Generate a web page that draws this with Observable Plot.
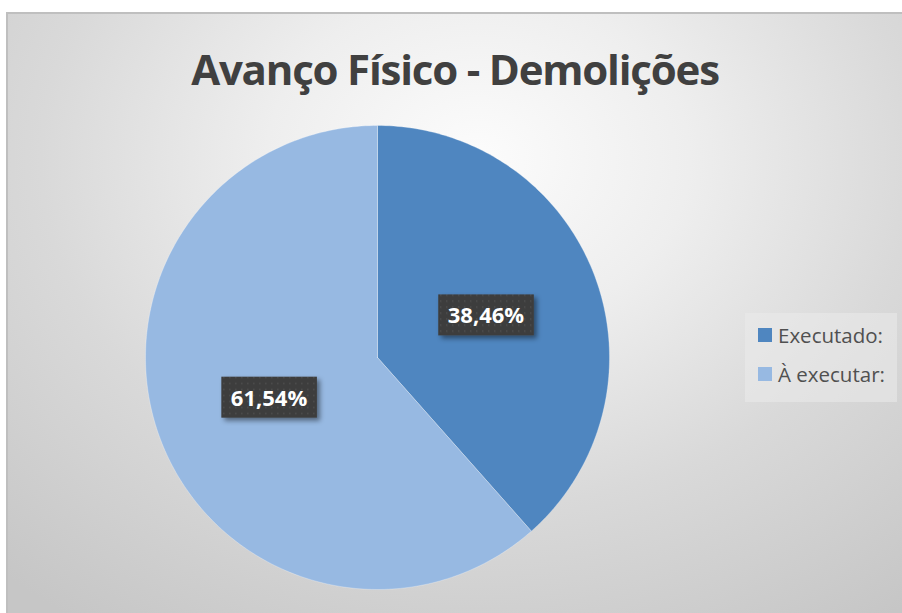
<!DOCTYPE html>
<html><head><meta charset="utf-8">
<script src="https://cdn.jsdelivr.net/npm/d3@7"></script>
<script src="https://cdn.jsdelivr.net/npm/@observablehq/plot@0.6"></script>
<style>
html,body{margin:0;padding:0;width:902px;height:613px;overflow:hidden;background:#fff;}
#frame{position:absolute;left:6px;top:12px;width:940px;height:660px;border-left:2px solid #bfbfbf;border-top:2px solid #bfbfbf;
  background:radial-gradient(ellipse 75% 85% at 50% 22%, #fcfcfc 0%, #eeeeee 30%, #d9d9d9 62%, #c6c6c6 100%);}
#title{position:absolute;left:0;top:39px;width:910px;text-align:center;font-family:"Open Sans",sans-serif;font-weight:700;font-size:42px;letter-spacing:-1.2px;line-height:60px;color:#404040;white-space:nowrap;}
#plot{position:absolute;left:0;top:0;}
#legend{position:absolute;left:745px;top:313px;width:152px;height:89px;background:rgba(235,235,235,0.55);font-family:"Open Sans",sans-serif;font-size:20.5px;color:#505050;}
#legend .item{position:absolute;left:13px;display:flex;align-items:center;white-space:nowrap;}
#legend .sw{width:14px;height:14px;margin-right:6px;}
</style>
</head><body>
<div id="frame"></div>
<div id="title"></div>
<div id="plot"></div>
<div id="legend"></div>
<script>
const title = "Avanço Físico - Demolições";
const categories = ["Executado:", "À executar:"];
const values = [38.46, 61.54];
const labels = ["38,46%", "61,54%"];
const colors = ["#4F86C0", "#97B9E2"];

document.getElementById("title").textContent = title;

// build slice polygons (angles measured clockwise from 12 o'clock)
const total = d3.sum(values);
let acc = 0;
const slices = values.map((v, i) => {
  const a0 = acc / total * 2 * Math.PI;
  acc += v;
  const a1 = acc / total * 2 * Math.PI;
  return {name: categories[i], a0, a1, label: labels[i], color: colors[i]};
});
const polyPts = [];
slices.forEach(s => {
  const n = Math.max(2, Math.ceil((s.a1 - s.a0) / (Math.PI / 180)));
  polyPts.push({name: s.name, x: 0, y: 0});
  for (let k = 0; k <= n; k++) {
    const a = s.a0 + (s.a1 - s.a0) * k / n;
    polyPts.push({name: s.name, x: Math.sin(a), y: -Math.cos(a)});
  }
  polyPts.push({name: s.name, x: 0, y: 0});
});
const labelPts = slices.map(s => {
  const m = (s.a0 + s.a1) / 2;
  return {label: s.label, x: 0.5 * Math.sin(m), y: -0.5 * Math.cos(m)};
});

const cx = 377, cy = 357, r = 232;
const plot = Plot.plot({
  width: 902, height: 613,
  margin: 0,
  style: {background: "transparent", overflow: "visible"},
  x: {domain: [-1, 1], range: [cx - r, cx + r], axis: null},
  y: {domain: [-1, 1], range: [cy - r, cy + r], axis: null},
  color: {domain: categories, range: colors},
  marks: [
    ...slices.map(s => Plot.line(polyPts.filter(p => p.name === s.name), {
      x: "x", y: "y", fill: s.color, stroke: "#ffffff", strokeOpacity: 0.35, strokeWidth: 0.8, curve: "linear-closed"
    })),
    Plot.text(labelPts, {x: "x", y: "y", text: "label", fill: "white", fontSize: 22, fontWeight: 700, fontFamily: "Open Sans"})
  ]
});
document.getElementById("plot").appendChild(plot);

// defs for label boxes
const svg = d3.select(plot);
const defs = svg.insert("defs", ":first-child");
const pat = defs.append("pattern").attr("id", "dots").attr("width", 6).attr("height", 6).attr("patternUnits", "userSpaceOnUse");
pat.append("rect").attr("width", 6).attr("height", 6).attr("fill", "#3d3d3d");
pat.append("rect").attr("x", 2).attr("y", 2).attr("width", 1.5).attr("height", 1.5).attr("fill", "#4e4e4e");
const f = defs.append("filter").attr("id", "shadow").attr("x", "-20%").attr("y", "-30%").attr("width", "150%").attr("height", "170%");
f.append("feDropShadow").attr("dx", 3).attr("dy", 3).attr("stdDeviation", 2.5).attr("flood-color", "#000").attr("flood-opacity", 0.45);

svg.selectAll("text").each(function() {
  if (!labels.includes(this.textContent)) return;
  const b = this.getBBox();
  const w = b.width + 19, h = 41;
  const x = b.x + b.width / 2 - w / 2, y = b.y + b.height / 2 - h / 2 + 0.5;
  const rect = d3.select(this.parentNode).insert("rect", () => this)
    .attr("x", x).attr("y", y).attr("width", w).attr("height", h)
    .attr("fill", "url(#dots)").attr("filter", "url(#shadow)");
  const tr = this.getAttribute("transform");
  if (tr) rect.attr("transform", tr);
});

// legend
const leg = d3.select("#legend");
categories.forEach((c, i) => {
  const it = leg.append("div").attr("class", "item").style("top", (i === 0 ? 8 : 47) + "px");
  it.append("div").attr("class", "sw").style("background", colors[i]);
  it.append("span").text(c);
});
</script>
</body></html>
